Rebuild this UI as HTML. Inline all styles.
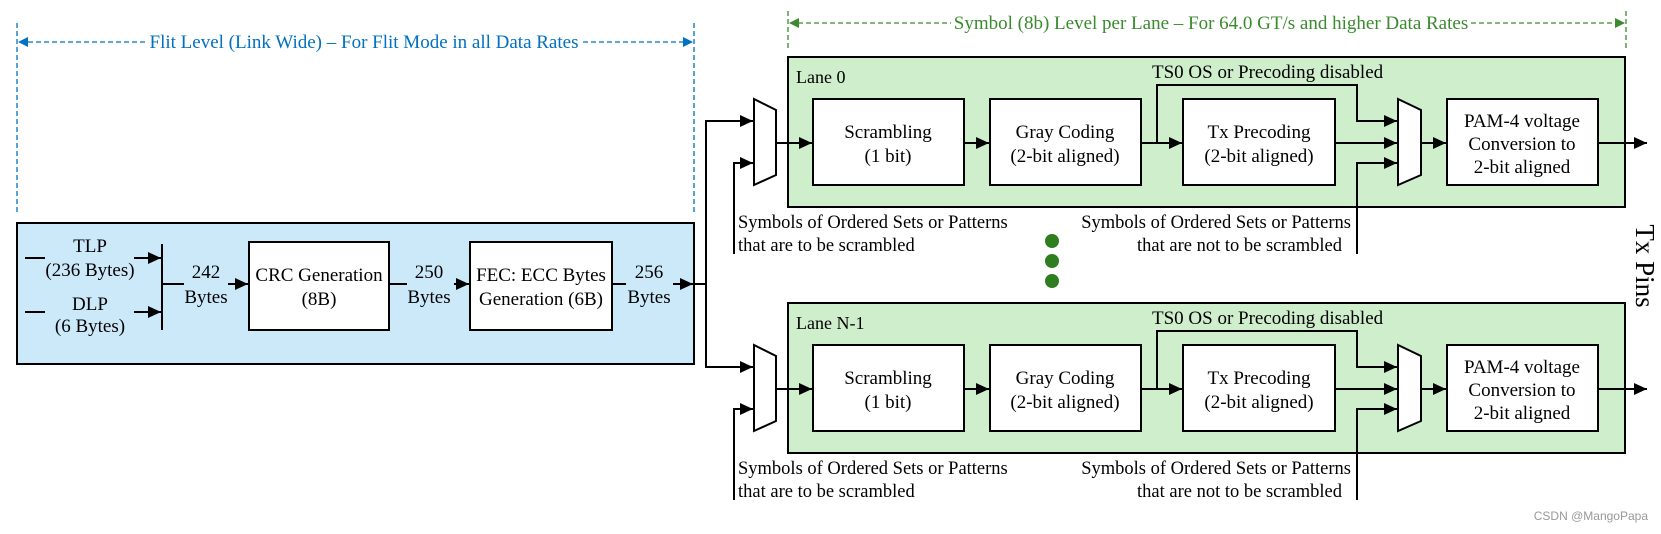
<!DOCTYPE html>
<html><head><meta charset="utf-8"><style>
html,body{margin:0;padding:0;background:#fff;}
svg{display:block;font-family:"Liberation Serif",serif;}
</style></head><body>
<svg width="1661" height="534" viewBox="0 0 1661 534" xmlns="http://www.w3.org/2000/svg">
<defs>
<marker id="A" markerWidth="14" markerHeight="14" refX="13" refY="7" orient="auto" markerUnits="userSpaceOnUse"><path d="M0,1 L13,7 L0,13 z" fill="#000"/></marker>
</defs>

<!-- Flit level annotation -->
<g stroke="#0070c0" stroke-width="1.3" stroke-dasharray="5,3" fill="none">
<line x1="17" y1="23" x2="17" y2="212"/><line x1="694" y1="23" x2="694" y2="212"/>
<line x1="20" y1="42" x2="146" y2="42"/>
<line x1="583" y1="42" x2="691" y2="42"/>
</g>
<path d="M18,42 L28,37 L28,47 z" fill="#0070c0"/>
<path d="M693,42 L683,37 L683,47 z" fill="#0070c0"/>
<text x="364" y="48" font-size="19" fill="#0070c0" text-anchor="middle">Flit Level (Link Wide) – For Flit Mode in all Data Rates</text>

<!-- Symbol level annotation -->
<g stroke="#3a8a2e" stroke-width="1.3" stroke-dasharray="5,3" fill="none">
<line x1="788" y1="11" x2="788" y2="48"/><line x1="1626" y1="11" x2="1626" y2="48"/>
<line x1="790" y1="23" x2="951" y2="23"/>
<line x1="1471" y1="23" x2="1624" y2="23"/>
</g>
<path d="M789,23 L799,18 L799,28 z" fill="#3a8a2e"/>
<path d="M1625,23 L1615,18 L1615,28 z" fill="#3a8a2e"/>
<text x="1211" y="29" font-size="19" fill="#3a8a2e" text-anchor="middle">Symbol (8b) Level per Lane – For 64.0 GT/s and higher Data Rates</text>

<!-- Blue box -->
<rect x="17" y="223" width="677" height="141" fill="#cce9fa" stroke="#000" stroke-width="2"/>
<g stroke="#000" stroke-width="2" fill="none">
<line x1="25" y1="258" x2="45" y2="258"/><line x1="134" y1="258" x2="161" y2="258" marker-end="url(#A)"/>
<line x1="25" y1="312" x2="45" y2="312"/><line x1="134" y1="312" x2="161" y2="312" marker-end="url(#A)"/>
<line x1="162" y1="244" x2="162" y2="330"/>
<line x1="162" y1="284" x2="184" y2="284"/><line x1="228" y1="284" x2="248" y2="284" marker-end="url(#A)"/>
<rect x="249" y="242" width="140" height="88" fill="#fff"/>
<line x1="389" y1="284" x2="407" y2="284"/><line x1="454" y1="284" x2="469" y2="284" marker-end="url(#A)"/>
<rect x="470" y="242" width="142" height="88" fill="#fff"/>
<line x1="612" y1="284" x2="626" y2="284"/><line x1="673" y1="284" x2="693" y2="284" marker-end="url(#A)"/>
<line x1="694" y1="284" x2="706" y2="284"/>
<polyline points="753,121 706,121 706,367 753,367" marker-end="url(#A)"/>
<line x1="706" y1="121" x2="753" y2="121" marker-end="url(#A)"/>
</g>
<g font-size="19" text-anchor="middle">
<text x="90" y="252">TLP</text><text x="90" y="276">(236 Bytes)</text>
<text x="90" y="310">DLP</text><text x="90" y="332">(6 Bytes)</text>
<text x="206" y="278">242</text><text x="206" y="303">Bytes</text>
<text x="429" y="278">250</text><text x="429" y="303">Bytes</text>
<text x="649" y="278">256</text><text x="649" y="303">Bytes</text>
<text x="319" y="281">CRC Generation</text><text x="319" y="305">(8B)</text>
<text x="541" y="281">FEC: ECC Bytes</text><text x="541" y="305">Generation (6B)</text>
</g>

<!-- Lanes -->
<g id="lane">
<rect x="788" y="57" width="837" height="150" fill="#cfeecb" stroke="#000" stroke-width="2"/>
<text x="1152" y="78" font-size="19">TS0 OS or Precoding disabled</text>
<g stroke="#000" stroke-width="2" fill="#fff">
<polygon points="754,99 776,110 776,175 754,185"/>
<rect x="813" y="99" width="151" height="86"/>
<rect x="990" y="99" width="151" height="86"/>
<rect x="1183" y="99" width="152" height="86"/>
<polygon points="1398,99 1421,110 1421,175 1398,185"/>
<rect x="1447" y="99" width="151" height="86"/>
</g>
<g stroke="#000" stroke-width="2" fill="none">
<polyline points="734,254 734,163 753,163" marker-end="url(#A)"/>
<line x1="776" y1="143" x2="812" y2="143" marker-end="url(#A)"/>
<line x1="964" y1="143" x2="989" y2="143" marker-end="url(#A)"/>
<line x1="1141" y1="143" x2="1182" y2="143" marker-end="url(#A)"/>
<polyline points="1157,143 1157,85 1357,85 1357,121 1397,121" marker-end="url(#A)"/>
<line x1="1335" y1="143" x2="1397" y2="143" marker-end="url(#A)"/>
<polyline points="1357,254 1357,163 1397,163" marker-end="url(#A)"/>
<line x1="1421" y1="143" x2="1446" y2="143" marker-end="url(#A)"/>
<line x1="1598" y1="143" x2="1647" y2="143" marker-end="url(#A)"/>
</g>
<g font-size="19" text-anchor="middle">
<text x="888" y="138">Scrambling</text><text x="888" y="162">(1 bit)</text>
<text x="1065" y="138">Gray Coding</text><text x="1065" y="162">(2-bit aligned)</text>
<text x="1259" y="138">Tx Precoding</text><text x="1259" y="162">(2-bit aligned)</text>
<text x="1522" y="127">PAM-4 voltage</text><text x="1522" y="150">Conversion to</text><text x="1522" y="173">2-bit aligned</text>
</g>
<g font-size="18.5">
<text x="738" y="228">Symbols of Ordered Sets or Patterns</text>
<text x="738" y="251">that are to be scrambled</text>
<text x="1351" y="228" text-anchor="end">Symbols of Ordered Sets or Patterns</text>
<text x="1342" y="251" text-anchor="end">that are not to be scrambled</text>
</g>
</g>
<use href="#lane" transform="translate(0,246)"/>
<text x="796" y="83" font-size="18">Lane 0</text>
<text x="796" y="329" font-size="18">Lane N-1</text>

<circle cx="1052" cy="241" r="7" fill="#2e7d1f"/>
<circle cx="1052" cy="261" r="7" fill="#2e7d1f"/>
<circle cx="1052" cy="281" r="7" fill="#2e7d1f"/>

<text transform="translate(1636,266) rotate(90)" font-size="27" text-anchor="middle">Tx Pins</text>
<text x="1648" y="520" font-size="12" fill="#999" text-anchor="end" font-family="Liberation Sans, sans-serif">CSDN @MangoPapa</text>
</svg>
</body></html>
